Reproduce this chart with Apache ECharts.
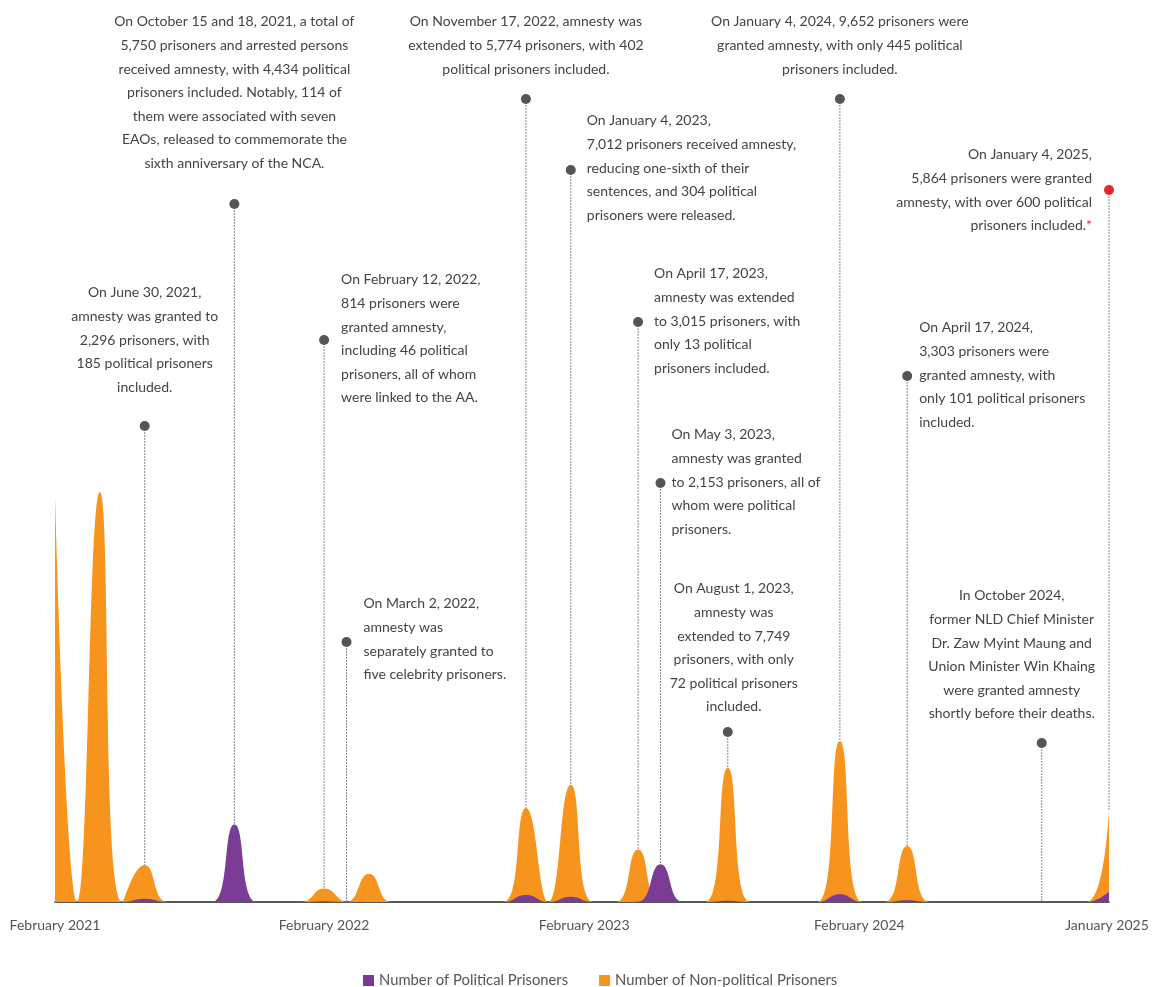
<!DOCTYPE html>
<html style="height: 100%">
<head>
    <meta charset="utf-8">
    <title>Myanmar amnesties 2021-2025</title>
</head>
<body style="height: 100%; margin: 0; background: #fff">
<div id="container" style="height: 100%"></div>
<script type="text/javascript" src="https://cdn.jsdelivr.net/npm/echarts@6/dist/echarts.min.js"></script>
<script type="text/javascript">
    // one category per month, February 2021 .. January 2025
    var months = [
        'February 2021', 'March 2021', 'April 2021', 'May 2021', 'June 2021', 'July 2021',
        'August 2021', 'September 2021', 'October 2021', 'November 2021', 'December 2021', 'January 2022',
        'February 2022', 'March 2022', 'April 2022', 'May 2022', 'June 2022', 'July 2022',
        'August 2022', 'September 2022', 'October 2022', 'November 2022', 'December 2022', 'January 2023',
        'February 2023', 'March 2023', 'April 2023', 'May 2023', 'June 2023', 'July 2023',
        'August 2023', 'September 2023', 'October 2023', 'November 2023', 'December 2023', 'January 2024',
        'February 2024', 'March 2024', 'April 2024', 'May 2024', 'June 2024', 'July 2024',
        'August 2024', 'September 2024', 'October 2024', 'November 2024', 'December 2024', 'January 2025'
    ];
    var tickLabels = ['February 2021', 'February 2022', 'February 2023', 'February 2024', 'January 2025'];

    var nonPolitical = [
        23280, 0, 23450, 0, 2111, 0, 0, 0, 1316, 0, 0, 0,
        768, 5, 1619, 0, 0, 0, 0, 0, 0, 5372, 0, 6708,
        0, 0, 3002, 0, 0, 0, 7677, 0, 0, 0, 0, 9207,
        0, 0, 3202, 0, 0, 0, 0, 0, 0, 0, 0, 5264
    ];
    var political = [
        0, 0, 0, 0, 185, 0, 0, 0, 4434, 0, 0, 0,
        46, 0, 0, 0, 0, 0, 0, 0, 0, 402, 0, 304,
        0, 0, 13, 2153, 0, 0, 72, 0, 0, 0, 0, 445,
        0, 0, 101, 0, 0, 0, 0, 0, 2, 0, 0, 600
    ];

    // annotated months (index into months) and their notes
    var noteMonths = [4, 8, 12, 13, 21, 23, 26, 27, 30, 35, 38, 44, 47];
    var noteTexts = [
        'On June 30, 2021,\namnesty was granted to\n2,296 prisoners, with\n185 political prisoners\nincluded.',
        'On October 15 and 18, 2021, a total of\n5,750 prisoners and arrested persons\nreceived amnesty, with 4,434 political\nprisoners included. Notably, 114 of\nthem were associated with seven\nEAOs, released to commemorate the\nsixth anniversary of the NCA.',
        'On February 12, 2022,\n814 prisoners were\ngranted amnesty,\nincluding 46 political\nprisoners, all of whom\nwere linked to the AA.',
        'On March 2, 2022,\namnesty was\nseparately granted to\nfive celebrity prisoners.',
        'On November 17, 2022, amnesty was\nextended to 5,774 prisoners, with 402\npolitical prisoners included.',
        'On January 4, 2023,\n7,012 prisoners received amnesty,\nreducing one-sixth of their\nsentences, and 304 political\nprisoners were released.',
        'On April 17, 2023,\namnesty was extended\nto 3,015 prisoners, with\nonly 13 political\nprisoners included.',
        'On May 3, 2023,\namnesty was granted\nto 2,153 prisoners, all of\nwhom were political\nprisoners.',
        'On August 1, 2023,\namnesty was\nextended to 7,749\nprisoners, with only\n72 political prisoners\nincluded.',
        'On January 4, 2024, 9,652 prisoners were\ngranted amnesty, with only 445 political\nprisoners included.',
        'On April 17, 2024,\n3,303 prisoners were\ngranted amnesty, with\nonly 101 political prisoners\nincluded.',
        'In October 2024,\nformer NLD Chief Minister\nDr. Zaw Myint Maung and\nUnion Minister Win Khaing\nwere granted amnesty\nshortly before their deaths.',
        'On January 4, 2025,\n5,864 prisoners were granted\namnesty, with over 600 political\nprisoners included.{star|*}'
    ];

    // placement of each note: dot height (px), text offset from the dot, alignment
    var noteLayout = [
        {dotY: 426, dx: 0, dy: -145, align: 'center'},
        {dotY: 204, dx: 0, dy: -194, align: 'center'},
        {dotY: 340, dx: 17, dy: -72, align: 'left'},
        {dotY: 642, dx: 17, dy: -50, align: 'left'},
        {dotY: 99, dx: 0, dy: -89, align: 'center'},
        {dotY: 170, dx: 16, dy: -61, align: 'left'},
        {dotY: 322, dx: 16, dy: -60, align: 'left'},
        {dotY: 483, dx: 11, dy: -60, align: 'left'},
        {dotY: 732, dx: 6, dy: -155, align: 'center'},
        {dotY: 99, dx: 0, dy: -89, align: 'center'},
        {dotY: 376, dx: 12, dy: -60, align: 'left'},
        {dotY: 743, dx: -30, dy: -159, align: 'center'},
        {dotY: 190, dx: -17, dy: -47, align: 'right', red: true}
    ];
    // small horizontal nudges of some tick labels (px to the left)
    var tickNudge = {'February 2023': 9, 'February 2024': 3, 'January 2025': 2};

    var noteData = noteMonths.map(function (m) {
        return [m, Math.max(nonPolitical[m], political[m])];
    });

    var FONT = 'Lato, "Open Sans", sans-serif';
    var dom = document.getElementById("container");
    var myChart = echarts.init(dom);
    var option = {
        backgroundColor: '#fff',
        animation: false,
        textStyle: {fontFamily: FONT},
        grid: {left: 55, right: 44, top: 28, bottom: 85},
        legend: {
            top: 968,
            left: 358,
            icon: 'rect',
            itemWidth: 11,
            itemHeight: 11,
            itemGap: 31,
            data: ['Number of Political Prisoners', 'Number of Non-political Prisoners'],
            textStyle: {color: '#555', fontSize: 14.8, fontFamily: FONT}
        },
        xAxis: {
            type: 'category',
            data: months,
            boundaryGap: false,
            axisLine: {lineStyle: {color: '#222', width: 1.5}},
            axisTick: {show: false},
            axisLabel: {
                color: '#555',
                fontSize: 14,
                margin: 16,
                interval: function (idx, value) {
                    return tickLabels.indexOf(value) >= 0;
                },
                formatter: function (value) {
                    var n = tickNudge[value] || 0;
                    return '{t' + n + '|' + value + '}';
                },
                rich: {
                    t0: {color: '#555', fontSize: 14},
                    t9: {color: '#555', fontSize: 14, padding: [0, 18, 0, 0]},
                    t3: {color: '#555', fontSize: 14, padding: [0, 6, 0, 0]},
                    t2: {color: '#555', fontSize: 14, padding: [0, 4, 0, 0]}
                }
            },
            splitLine: {show: false}
        },
        yAxis: {
            type: 'value',
            min: 0,
            max: 50000,
            show: false,
            splitLine: {show: false}
        },
        series: [
            {
                name: 'Number of Non-political Prisoners',
                type: 'line',
                data: nonPolitical,
                smooth: true,
                symbol: 'none',
                color: '#f7941d',
                lineStyle: {width: 0},
                areaStyle: {color: '#f7941d', opacity: 1},
                z: 2
            },
            {
                name: 'Number of Political Prisoners',
                type: 'line',
                data: political,
                smooth: true,
                symbol: 'none',
                color: '#7b3c96',
                lineStyle: {width: 0},
                areaStyle: {color: '#7b3c96', opacity: 1},
                z: 3
            },
            {
                name: 'notes',
                type: 'custom',
                data: noteData,
                clip: false,
                silent: true,
                z: 4,
                renderItem: function (params, api) {
                    var i = params.dataIndex;
                    var lay = noteLayout[i];
                    var pt = api.coord([api.value(0), api.value(1)]);
                    return {
                        type: 'group',
                        children: [
                            {
                                type: 'line',
                                shape: {x1: pt[0], y1: lay.dotY, x2: pt[0], y2: pt[1]},
                                style: {stroke: '#8a8a8a', lineWidth: 1, lineDash: [2, 1]}
                            },
                            {
                                type: 'circle',
                                shape: {cx: pt[0], cy: lay.dotY, r: 5},
                                style: {fill: lay.red ? '#e8262d' : '#555'}
                            },
                            {
                                type: 'text',
                                x: pt[0] + lay.dx,
                                y: lay.dotY + lay.dy,
                                style: {
                                    text: noteTexts[i],
                                    fill: '#444',
                                    fontSize: 14,
                                    fontFamily: FONT,
                                    lineHeight: 23.6,
                                    align: lay.align,
                                    verticalAlign: 'top',
                                    rich: {
                                        star: {fill: '#e8262d', fontSize: 14, lineHeight: 23.6, fontFamily: FONT}
                                    }
                                }
                            }
                        ]
                    };
                }
            }
        ]
    };
    if (option && typeof option === "object") {
        myChart.setOption(option, true);
    }
</script>
</body>
</html>
